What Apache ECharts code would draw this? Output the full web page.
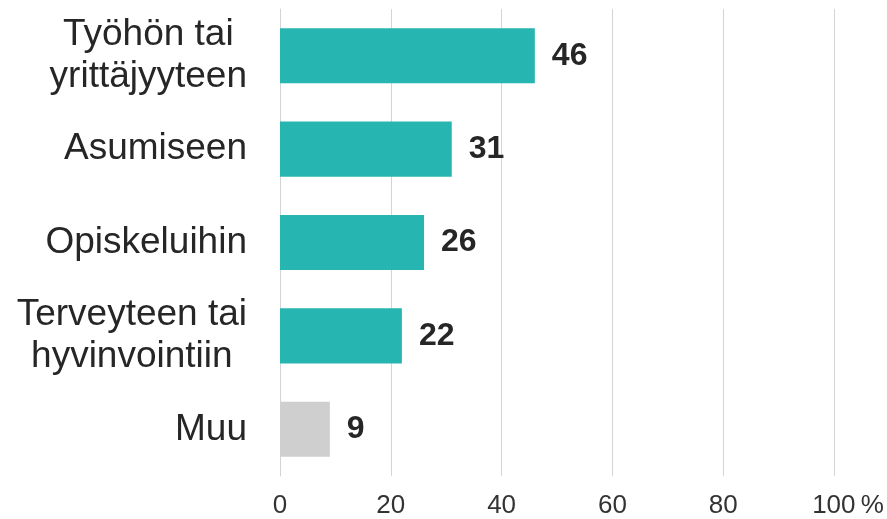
<!DOCTYPE html>
<html>
<head>
<meta charset="utf-8">
<script src="https://cdn.jsdelivr.net/npm/echarts@6/dist/echarts.min.js"></script>
<style>
  html, body { margin: 0; padding: 0; background: #fff; }
  #chart { width: 887px; height: 519px; }
</style>
</head>
<body>
<div id="chart"></div>
<script>
  // data
  var categories = ['Työhön tai\nyrittäjyyteen', 'Asumiseen', 'Opiskeluihin', 'Terveyteen tai\nhyvinvointiin', 'Muu'];
  var values = [46, 31, 26, 22, 9];
  var barColors = ['#26b5b0', '#26b5b0', '#26b5b0', '#26b5b0', '#d0cfd0'];

  var myChart = echarts.init(document.getElementById('chart'));
  var font = 'Liberation Sans, Arial, sans-serif';

  var option = {
    animation: false,
    textStyle: { fontFamily: font },
    grid: { left: 280, right: 53, top: 9, bottom: 43 },
    xAxis: {
      type: 'value',
      min: 0,
      max: 100,
      interval: 20,
      axisLine: { show: false },
      axisTick: { show: false },
      splitLine: { lineStyle: { color: '#d4d4d4', width: 1 } },
      axisLabel: {
        margin: 17,
        color: '#333',
        fontSize: 26,
        fontFamily: font,
        formatter: function (v) {
          return v === 100 ? '{n|100}{p|\u2009%}' : String(v);
        },
        rich: {
          n: { fontSize: 26, color: '#333', fontFamily: font, padding: [0, 0, 0, 28] },
          p: { fontSize: 26, color: '#333', fontFamily: font }
        }
      }
    },
    yAxis: {
      type: 'category',
      inverse: true,
      data: categories,
      axisLine: { show: true, lineStyle: { color: '#d4d4d4' } },
      axisTick: { show: false },
      axisLabel: {
        margin: 33,
        align: 'right',
        formatter: function (v) {
          return v.split('\n').map(function (l) { return '{c|' + l + '}'; }).join('\n');
        },
        rich: {
          c: { align: 'center', fontSize: 37, lineHeight: 42, color: '#262626', fontFamily: font }
        }
      }
    },
    series: [{
      type: 'bar',
      barCategoryGap: '41%',
      data: values.map(function (v, i) {
        return { value: v, itemStyle: { color: barColors[i] } };
      }),
      label: {
        show: true,
        position: 'right',
        distance: 17,
        fontSize: 32,
        fontWeight: 'bold',
        color: '#262626',
        fontFamily: font
      }
    }]
  };
  myChart.setOption(option);
</script>
</body>
</html>
